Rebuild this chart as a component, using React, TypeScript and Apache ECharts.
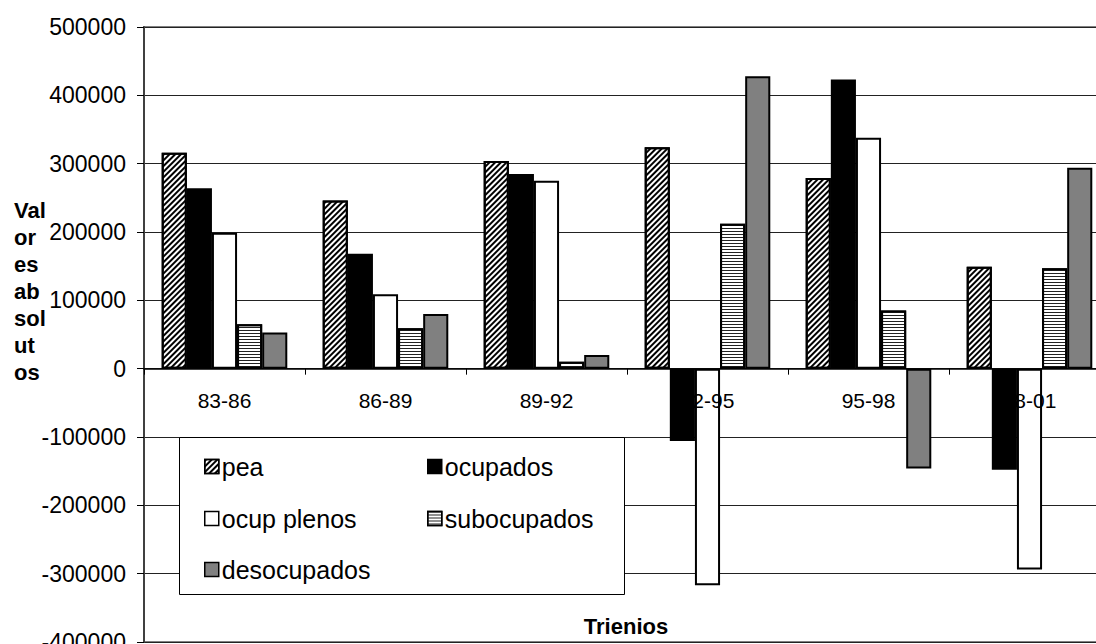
import React, { useEffect, useRef } from "react";
import * as echarts from "echarts";

const categories = ["83-86", "86-89", "89-92", "92-95", "95-98", "98-01"];
const seriesNames = ["pea", "ocupados", "ocup plenos", "subocupados", "desocupados"];
const pea = [316000, 246000, 304000, 324000, 279000, 149000];
const ocupados = [264000, 168000, 285000, -106000, 423000, -148000];
const ocupPlenos = [199000, 109000, 275000, -317000, 338000, -294000];
const subocupados = [65000, 59000, 10000, 212000, 85000, 147000];
const desocupados = [53000, 80000, 20000, 428000, -146000, 294000];
const yMin = -400000;
const yMax = 500000;
const yStep = 100000;
const yTitle = "Val\nor\nes\nab\nsol\nut\nos";
const xTitle = "Trienios";

const FONT = "'Liberation Sans', Arial, sans-serif";
const GRID_TOP = 27;
const GRID_HEIGHT = 615;

export default function App() {
  const ref = useRef<HTMLDivElement>(null);

  useEffect(() => {
    if (!ref.current) return;
    const chart = echarts.init(ref.current, null, { renderer: "svg" });
    const border = { borderColor: "#000", borderWidth: 2 };
    const styles: any[] = [
      {
        color: "#fff",
        ...border,
        decal: {
          symbol: "rect",
          symbolSize: 1,
          dashArrayX: [1, 0],
          dashArrayY: [1.2, 2],
          rotation: -Math.PI / 4,
          color: "#000",
          backgroundColor: "#fff",
        },
      },
      { color: "#000", ...border },
      { color: "#fff", ...border },
      {
        color: "#fff",
        ...border,
        decal: {
          symbol: "rect",
          symbolSize: 1,
          dashArrayX: [1, 0],
          dashArrayY: [1, 2],
          rotation: 0,
          color: "#222",
          backgroundColor: "#fff",
        },
      },
      { color: "#808080", ...border },
    ];
    const values = [pea, ocupados, ocupPlenos, subocupados, desocupados];

    const legendPos = [
      { left: 204, cy: 466 },
      { left: 427, cy: 466 },
      { left: 204, cy: 518 },
      { left: 427, cy: 518 },
      { left: 204, cy: 569 },
    ];

    // place the category axis on the zero level of the value axis
    const zeroOffset = -(GRID_HEIGHT * (0 - yMin)) / (yMax - yMin);

    chart.setOption({
      animation: false,
      backgroundColor: "#fff",
      grid: {
        left: 144,
        top: GRID_TOP,
        width: 966,
        height: GRID_HEIGHT,
        containLabel: false,
        outerBoundsMode: "none",
        show: true,
        borderColor: "#808080",
        borderWidth: 2,
        backgroundColor: "transparent",
      },
      xAxis: {
        type: "category",
        data: categories,
        position: "bottom",
        offset: zeroOffset,
        axisLine: { onZero: false, lineStyle: { color: "#000", width: 1.5 } },
        axisTick: { show: true, alignWithLabel: false, length: 6, lineStyle: { color: "#000" } },
        axisLabel: { fontSize: 21, color: "#000", fontFamily: FONT, margin: 21, hideOverlap: false },
        splitLine: { show: false },
        z: 10,
      },
      yAxis: {
        type: "value",
        min: yMin,
        max: yMax,
        interval: yStep,
        axisLine: { show: true, lineStyle: { color: "#404040", width: 2 } },
        axisTick: { show: true, length: 7, lineStyle: { color: "#000" } },
        axisLabel: {
          fontSize: 23,
          color: "#000",
          fontFamily: FONT,
          margin: 18,
          formatter: (v: number) => String(v),
        },
        splitLine: { show: true, lineStyle: { color: "#222", width: 1 } },
      },
      legend: seriesNames.map((n, i) => ({
        data: [n],
        left: legendPos[i].left,
        top: legendPos[i].cy - 12,
        padding: 0,
        itemWidth: 14,
        itemHeight: 14,
        icon: "rect",
        selectedMode: false,
        itemStyle: { borderWidth: 1.5 },
        textStyle: { fontSize: 25, color: "#000", fontFamily: FONT, padding: [0, 0, 0, -2] },
        z: 10,
      })),
      graphic: [
        {
          type: "rect",
          z: 3,
          shape: { x: 179.5, y: 437.5, width: 445, height: 157 },
          style: { fill: "#fff", stroke: "#000", lineWidth: 1 },
        },
        {
          type: "text",
          z: 5,
          x: 14,
          y: 197,
          style: {
            text: yTitle,
            fontSize: 22,
            fontWeight: "bold",
            fontFamily: FONT,
            lineHeight: 27,
            fill: "#000",
            textVerticalAlign: "top",
          },
        },
        {
          type: "text",
          z: 5,
          x: 626,
          y: 626,
          style: {
            text: xTitle,
            fontSize: 22,
            fontWeight: "bold",
            fontFamily: FONT,
            fill: "#000",
            textAlign: "center",
            textVerticalAlign: "middle",
          },
        },
      ],
      series: seriesNames.map((n, i) => ({
        name: n,
        type: "bar",
        data: values[i],
        barGap: "0%",
        barCategoryGap: "22%",
        itemStyle: styles[i],
        z: 4,
      })),
    });
    return () => chart.dispose();
  }, []);

  return <div ref={ref} style={{ position: "absolute", left: 0, top: 0, width: 1096, height: 644 }} />;
}
